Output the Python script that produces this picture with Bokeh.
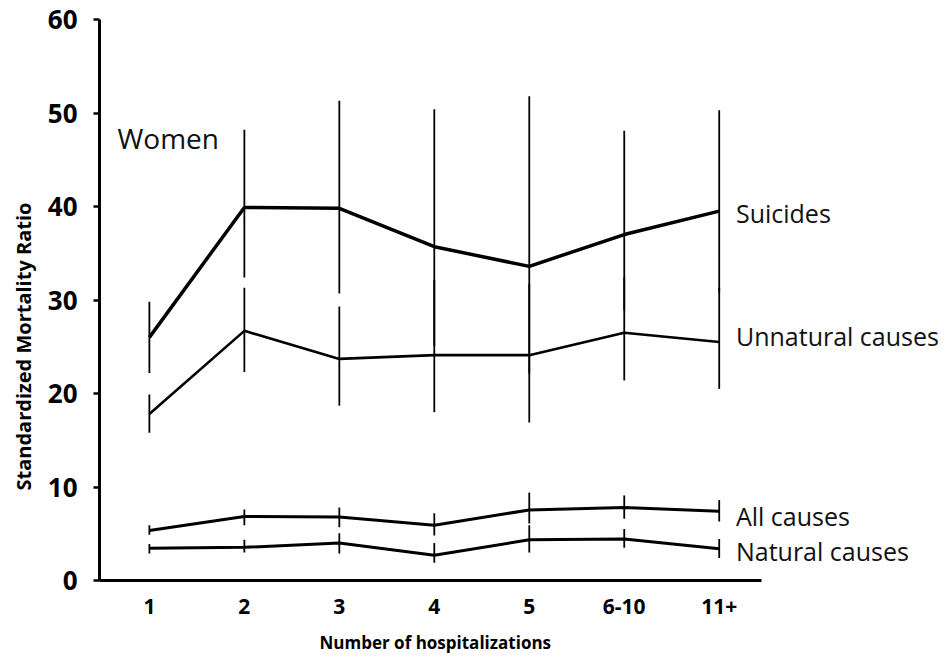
from bokeh.plotting import figure
from bokeh.models import Label, FixedTicker, Title
from bokeh.embed import file_html
from bokeh.resources import INLINE

categories = ["1", "2", "3", "4", "5", "6-10", "11+"]
xpos = [1, 2, 3, 4, 5, 6, 7]

suicides = [26.0, 39.9, 39.8, 35.7, 33.6, 37.0, 39.5]
suicides_lo = [22.2, 32.4, 30.7, 25.1, 22.1, 28.9, 30.8]
suicides_hi = [29.8, 48.2, 51.3, 50.4, 51.8, 48.1, 50.3]

unnatural = [17.8, 26.7, 23.7, 24.1, 24.1, 26.5, 25.5]
unnatural_lo = [15.8, 22.3, 18.7, 18.0, 16.9, 21.4, 20.5]
unnatural_hi = [19.9, 31.3, 29.3, 32.1, 31.7, 32.4, 31.3]

all_causes = [5.35, 6.85, 6.8, 5.9, 7.55, 7.8, 7.4]
all_lo = [4.9, 5.9, 5.7, 4.8, 6.1, 6.6, 6.3]
all_hi = [5.9, 7.6, 7.8, 7.2, 9.4, 9.1, 8.6]

natural = [3.45, 3.55, 4.0, 2.7, 4.35, 4.45, 3.4]
natural_lo = [2.9, 3.0, 2.9, 1.9, 3.0, 3.5, 2.4]
natural_hi = [3.9, 4.35, 5.05, 4.0, 5.9, 5.5, 4.45]

y_ticks = [0, 10, 20, 30, 40, 50, 60]

FONT = "Open Sans"

p = figure(width=942, height=666, output_backend="svg", toolbar_location=None,
           x_range=(0.4748, 9.351), y_range=(0, 60),
           min_border_left=97, min_border_right=0, min_border_top=19, min_border_bottom=86)
p.outline_line_color = None
p.grid.grid_line_color = None
p.background_fill_color = "white"
p.border_fill_color = "white"

# y axis
p.yaxis.ticker = FixedTicker(ticks=y_ticks)
p.yaxis.axis_line_width = 3
p.yaxis.axis_line_color = "black"
p.yaxis.major_tick_line_width = 2.5
p.yaxis.major_tick_out = 6
p.yaxis.major_tick_in = 0
p.yaxis.minor_tick_line_color = None
p.yaxis.major_label_text_font = FONT
p.yaxis.major_label_text_font_style = "bold"
p.yaxis.major_label_text_font_size = "26px"
p.yaxis.major_label_text_color = "black"
p.yaxis.major_label_standoff = 16

# x axis
p.xaxis.ticker = FixedTicker(ticks=xpos)
p.xaxis.bounds = (0.4748, 7.44)
p.xaxis.major_label_overrides = {x: c for x, c in zip(xpos, categories)}
p.xaxis.axis_line_width = 3
p.xaxis.axis_line_color = "black"
p.xaxis.major_tick_line_color = None
p.xaxis.minor_tick_line_color = None
p.xaxis.major_label_text_font = FONT
p.xaxis.major_label_text_font_style = "bold"
p.xaxis.major_label_text_font_size = "21px"
p.xaxis.major_label_text_color = "black"
p.xaxis.major_label_standoff = 12

# axis titles as side titles, so they can be offset like the reference
p.add_layout(Title(text="Number of hospitalizations", align="left", offset=220,
                   text_font=FONT, text_font_style="bold", text_font_size="17px",
                   text_color="black", standoff=25), "below")
p.add_layout(Title(text="Standardized Mortality Ratio", align="left", offset=90,
                   text_font=FONT, text_font_style="bold", text_font_size="20px",
                   text_color="black", standoff=15), "left")

series = [
    (suicides, suicides_lo, suicides_hi, 3.5),
    (unnatural, unnatural_lo, unnatural_hi, 2.6),
    (all_causes, all_lo, all_hi, 3),
    (natural, natural_lo, natural_hi, 3),
]
for vals, lo, hi, lw in series:
    p.segment(x0=xpos, y0=lo, x1=xpos, y1=hi, line_color="black", line_width=1.8)
    p.line(xpos, vals, line_color="black", line_width=lw)

labels = [("Suicides", 39.3), ("Unnatural causes", 26.2), ("All causes", 6.95), ("Natural causes", 3.2)]
for txt, yv in labels:
    p.add_layout(Label(x=7.176, y=yv, text=txt, text_font=FONT, text_font_size="25px",
                       text_color="#111111", text_baseline="middle", text_align="left"))

p.add_layout(Label(x=0.664, y=47.3, text="Women", text_font=FONT, text_font_size="28px",
                   text_color="#111111", text_baseline="middle", text_align="left"))

open("out.html", "w").write(file_html(p, INLINE))
